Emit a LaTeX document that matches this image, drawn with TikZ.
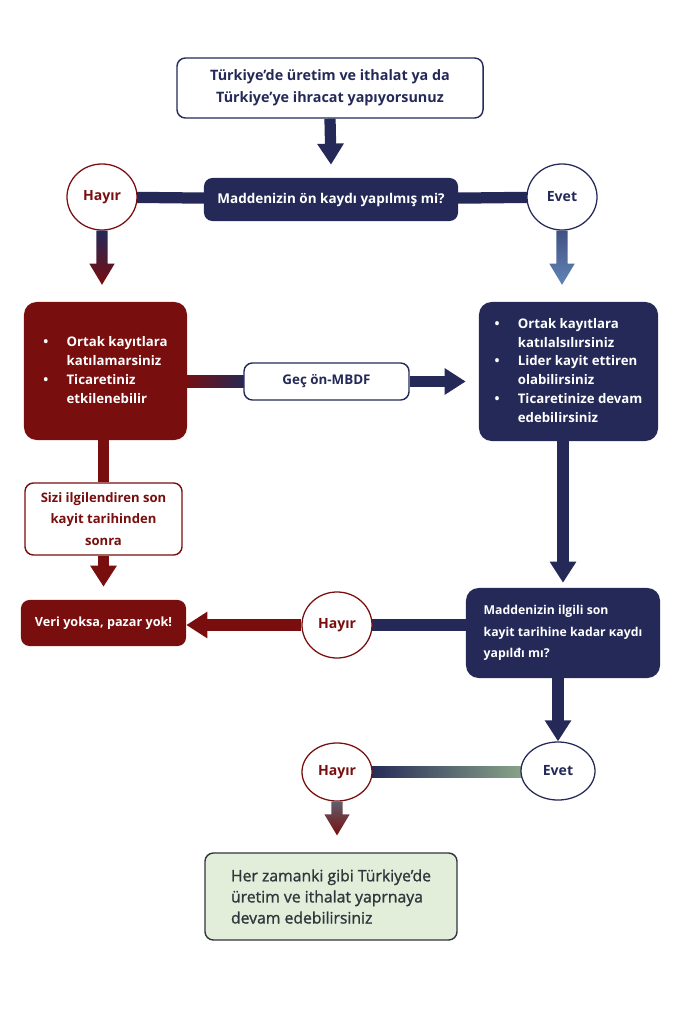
\documentclass[tikz,border=0pt]{standalone}
\usepackage{fontspec}
\setmainfont{Open Sans}
\newfontfamily\mediumfont[FakeBold=1.2]{Open Sans}
\usetikzlibrary{arrows.meta,positioning,shapes.geometric,calc,backgrounds}
\definecolor{navy}{RGB}{36,41,88}
\definecolor{brick}{RGB}{120,14,14}
\definecolor{steel}{RGB}{98,132,182}
\definecolor{sage}{RGB}{138,165,136}
\definecolor{mint}{RGB}{227,238,218}
\definecolor{slate}{RGB}{96,94,108}
\definecolor{ink}{RGB}{48,54,60}

\begin{document}
\begin{tikzpicture}[x=0.025cm,y=-0.025cm,
    box/.style={rounded corners=6pt,font=\bfseries\fontsize{9.5}{15}\selectfont,align=center,inner sep=2pt},
    darkbox/.style={box,fill=navy,text=white},
    redbox/.style={box,fill=brick,text=white},
    openbox/.style={box,draw=navy,fill=white,text=navy,line width=1pt},
    bullets/.style={font=\bfseries\fontsize{9.4}{13.4}\selectfont,rounded corners=9pt},
    answer/.style={ellipse,draw,line width=0.9pt,fill=white,font=\bfseries\fontsize{10}{11}\selectfont,
      minimum width=1.75cm,minimum height=1.65cm,inner sep=0pt},
    bar/.style={line width=8pt},
    arr/.style={bar,-{Triangle[width=18pt,length=15pt]}}]
  \useasboundingbox (0,0) rectangle (683,1024);

  % question chain
  \node[openbox,font=\bfseries\fontsize{10.2}{15.5}\selectfont,minimum width=7.65cm,minimum height=1.5cm] (start) at (330,88)
    {Türkiye’de üretim ve ithalat ya da\\Türkiye’ye ihracat yapıyorsunuz};
  \node[darkbox,font=\bfseries\fontsize{9.6}{12}\selectfont,minimum width=6.35cm,minimum height=1.075cm] (q1) at (331,199.5) {Maddenizin ön kaydı yapılmış mi?};
  \node[answer,draw=brick,text=brick] (no1) at (102,197) {Hayır};
  \node[answer,draw=navy,text=navy] (yes1) at (562,197) {Evet};

  % middle row
  \node[redbox,bullets,minimum width=4.075cm,minimum height=3.45cm] (lost) at (105.5,371)
    {\begin{tabular}{@{}l@{\hspace{13pt}}l@{}}\textbullet & Ortak kayıtlara\\ & katılamarsiniz\\ \textbullet & Ticaretiniz\\ & etkilenebilir\end{tabular}};
  \node[darkbox,bullets,minimum width=4.475cm,minimum height=3.475cm] (joined) at (568.5,371.5)
    {\begin{tabular}{@{}l@{\hspace{13pt}}l@{}}\textbullet & Ortak kayıtlara\\ & katılalsılırsiniz\\ \textbullet & Lider kayit ettiren\\ & olabilirsiniz\\
      \textbullet & Ticaretinize devam\\ & edebilirsiniz\end{tabular}};
  \node[openbox,minimum width=4.125cm,minimum height=0.925cm] (mbdf) at (326.5,381.5) {Geç ön-MBDF};

  % left column
  \node[openbox,draw=brick,text=brick,font=\bfseries\fontsize{9.3}{15.3}\selectfont,minimum width=3.925cm,minimum height=1.8cm] (late) at (103.5,519)
    {Sizi ilgilendiren son\\kayit tarihinden\\sonra};
  \node[redbox,font=\bfseries\fontsize{9}{11}\selectfont,minimum width=4.125cm,minimum height=1.15cm] (nodata) at (103.5,623) {Veri yoksa, pazar yok!};

  % right column
  \node[darkbox,rounded corners=9pt,align=left,font=\bfseries\fontsize{8.7}{15.3}\selectfont,minimum width=4.85cm,minimum height=2.25cm] (q2) at (563,633)
    {Maddenizin ilgili son\\kayit tarihine kadar κaydı\\yapılđı mı?};
  \node[answer,draw=brick,text=brick] (no2) at (337,625) {Hayır};
  \node[answer,draw=navy,text=navy,minimum width=1.85cm,minimum height=1.45cm] (yes3) at (558,771) {Evet};
  \node[answer,draw=brick,text=brick,minimum height=1.45cm] (no3) at (337,772) {Hayır};
  \node[box,draw=ink,fill=mint,text=ink,line width=1pt,align=left,font=\mediumfont\fontsize{11.2}{15}\selectfont,
    minimum width=6.3cm,minimum height=2.175cm] (final) at (331,896.5)
    {Her zamanki gibi Türkiye’de\\üretim ve ithalat yaprnaya\\devam edebilirsiniz};

  % bars behind the nodes
  \begin{scope}[on background layer]
    \draw[bar,navy] (no1.center) -- (q1.center) -- (yes1.center);
    \draw[bar,navy] (no2.center) -- (no2.center -| q2.center);
    \shade[left color=brick,right color=navy] ($(lost.east |- mbdf.west)+(-4,-6)$) rectangle ($(mbdf.west)+(4,6)$);
    \shade[left color=navy,right color=sage] ($(no3.east)+(-4,-6)$) rectangle ($(yes3.west)+(4,6)$);
  \end{scope}

  % arrows
  \draw[arr,navy] (start.south) -- ($(q1.north)+(0,-13)$);
  \draw[arr,navy] (mbdf.east) -- ($(joined.west |- mbdf.east)+(-13,0)$);
  \draw[bar,brick] (lost.south -| late.north) -- (late.north);
  \draw[arr,brick] (late.south) -- ($(nodata.north)+(0,-13)$);
  \draw[arr,navy] (joined.south -| q2.north) -- ($(q2.north)+(0,-5)$);
  \draw[arr,brick] (no2.west) -- (nodata.east |- no2.west);
  \draw[arr,navy] (q2.south -| yes3.north) -- (yes3.north);
  \foreach \a/\b/\c/\d in {no1/lost/navy/brick, yes1/joined/navy!55!steel/steel, no3/final/slate/brick}
    \shade[top color=\c,bottom color=\d] let \p1=(\a.south), \p2=(\b.north) in
      ({\x1-4pt},\y1) -- ({\x1-4pt},{\y2+27pt}) -- ({\x1-9pt},{\y2+27pt}) -- (\x1,{\y2+12pt})
      -- ({\x1+9pt},{\y2+27pt}) -- ({\x1+4pt},{\y2+27pt}) -- ({\x1+4pt},\y1) -- cycle;
\end{tikzpicture}
\end{document}
